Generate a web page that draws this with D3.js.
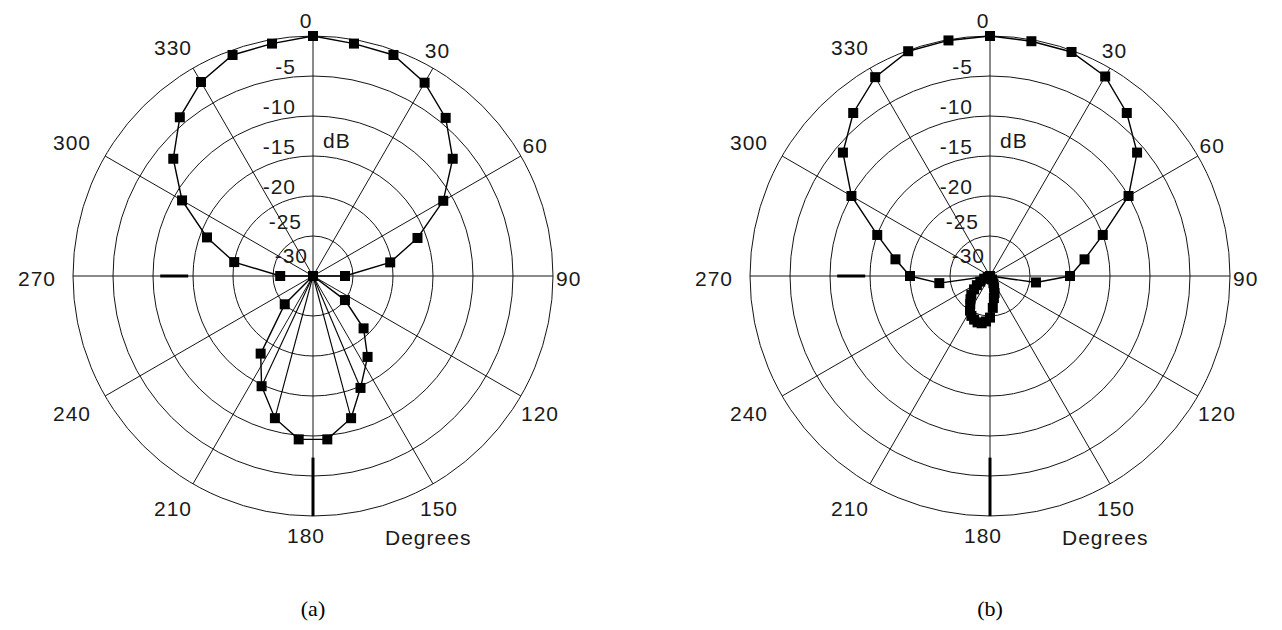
<!DOCTYPE html>
<meta charset="utf-8">
<style>
body { margin: 0; background: #fff; }
text { font: 21px "Liberation Sans", Arial, sans-serif; fill: #1a1a1a; letter-spacing: 1px; }
text.cap { font: 22px "Liberation Serif", "Times New Roman", serif; fill: #000; letter-spacing: 0; }
.ring, .spoke { fill: none; stroke: #151515; stroke-width: 1; }
.trace { fill: none; stroke: #000; stroke-width: 1.4; }
.fan { stroke: #000; stroke-width: 1.1; }
.bar { stroke: #000; stroke-width: 3; }
.mark { fill: #000; }
</style>
<svg width="1282" height="630"></svg>
<script src="https://d3js.org/d3.v7.min.js"></script>
<script>

// axes
var angleTicks = d3.range(0, 360, 30);
var dbTicks = [-5, -10, -15, -20, -25, -30];
var ringLevels = [0, -5, -10, -15, -20, -25];

// panel (a): angle (deg) and level (dB)
var angA = [0, 10, 20, 30, 40, 50, 60, 70, 80, 90, 100, 110, 120,
            127, 136, 146, 157, 165, 175, 185, 195, 205, 214, 225,
            240, 250, 260, 270, 280, 290, 300, 310, 320, 330, 340, 350];
var dbA  = [0, -0.5, -0.6, -2.1, -4.2, -7.2, -11.2, -16.1, -20.2, -26, -30, -30, -30,
            -25, -20.9, -17.8, -14.8, -11.6, -9.5, -9.5, -11.6, -14.8, -18.3, -25,
            -30, -30, -30, -25.9, -20, -15.9, -11.1, -7.2, -4.1, -2.0, -0.6, -0.5];
// points of (a) that are also joined to the centre
var fanA = [157, 165, 195, 205];

// panel (b)
var angB = [0, 10, 20, 30, 40, 50, 60, 70, 80, 90, 98,
            100, 115, 130, 145, 150, 155, 160, 165, 170, 175, 180, 185, 190, 195,
            200, 205, 210, 215, 220, 225, 230, 235, 240, 245, 250, 255,
            262, 270, 280, 290, 300, 310, 320, 330, 340, 350];
var dbB  = [0, -0.2, -0.2, -1.2, -3.4, -6, -10, -15, -18, -20, -24.2,
            -30, -30, -30, -30, -29.5, -29, -28.5, -27.8, -27.2, -26, -24.8, -24.3, -24, -24,
            -24.2, -24.5, -25, -25.7, -26.2, -26.7, -27.4, -28, -28.6, -29.2, -29.7, -30,
            -23.6, -20, -18, -15, -10, -6, -3.4, -1.3, -0.1, -0.1];
var fanB = [];

// heavy radial strokes seen on both plots
var barAng  = [180, 270];
var barFrom = [-7.3, -14.4];
var barTo   = [0, -10.9];

var captions = ["(a)", "(b)"];

var svg = d3.select("svg"),
    cy = 276,
    R = 240;

var r = d3.scaleLinear().domain([-30, 0]).range([0, R]).clamp(true);
var rad = d3.scaleLinear().domain([0, 360]).range([0, 2 * Math.PI]);

function panel(cx, ang, db, fan, caption) {
  var g = svg.append("g").attr("transform", "translate(" + cx + "," + cy + ")");
  var pts = ang.map(function(a, i) { return {a: a, v: db[i]}; });

  g.selectAll(".ring")
    .data(ringLevels)
    .enter().append("circle")
      .attr("class", "ring")
      .attr("r", function(d) { return r(d); });

  g.selectAll(".spoke")
    .data(angleTicks)
    .enter().append("line")
      .attr("class", "spoke")
      .attr("x2", function(d) { return d3.pointRadial(rad(d), R)[0]; })
      .attr("y2", function(d) { return d3.pointRadial(rad(d), R)[1]; });

  g.selectAll(".bar")
    .data(barAng)
    .enter().append("line")
      .attr("class", "bar")
      .attr("x1", function(d, i) { return d3.pointRadial(rad(d), r(barFrom[i]))[0]; })
      .attr("y1", function(d, i) { return d3.pointRadial(rad(d), r(barFrom[i]))[1]; })
      .attr("x2", function(d, i) { return d3.pointRadial(rad(d), r(barTo[i]))[0]; })
      .attr("y2", function(d, i) { return d3.pointRadial(rad(d), r(barTo[i]))[1]; });

  var line = d3.lineRadial()
      .angle(function(d) { return rad(d.a); })
      .radius(function(d) { return r(d.v); })
      .curve(d3.curveLinearClosed);

  g.append("path")
      .attr("class", "trace")
      .attr("d", line(pts));

  g.selectAll(".fan")
    .data(pts.filter(function(d) { return fan.indexOf(d.a) >= 0; }))
    .enter().append("line")
      .attr("class", "fan")
      .attr("x2", function(d) { return d3.pointRadial(rad(d.a), r(d.v))[0]; })
      .attr("y2", function(d) { return d3.pointRadial(rad(d.a), r(d.v))[1]; });

  var ms = 10;
  g.selectAll(".mark")
    .data(pts)
    .enter().append("rect")
      .attr("class", "mark")
      .attr("width", ms)
      .attr("height", ms)
      .attr("x", function(d) { return d3.pointRadial(rad(d.a), r(d.v))[0] - ms / 2; })
      .attr("y", function(d) { return d3.pointRadial(rad(d.a), r(d.v))[1] - ms / 2; });

  // dB labels, stacked up the 0 deg axis
  g.selectAll(".dbl")
    .data(dbTicks)
    .enter().append("text")
      .attr("text-anchor", "end")
      .attr("x", function(d) { return -17 + Math.max(0, (80 - r(d)) / 80 * 12); })
      .attr("y", function(d) { return -r(d) - 2 - Math.max(0, (80 - r(d)) / 80 * 11); })
      .text(function(d) { return d; });

  g.append("text")
      .attr("x", 10)
      .attr("y", -r(-15) - 8)
      .text("dB");

  // angle labels just outside the outer ring
  g.selectAll(".al")
    .data(angleTicks)
    .enter().append("text")
      .attr("text-anchor", "middle")
      .text(function(d) { return d; })
      .each(function(d) {
        var w = this.getComputedTextLength(), h = 15,
            s = Math.sin(rad(d)), c = Math.cos(rad(d)),
            e = 250 + Math.abs(s) * w / 2 + Math.abs(c) * h / 2;
        d3.select(this)
            .attr("x", -7 + e * s)
            .attr("y", 2 - e * c + h / 2);
      });

  g.append("text")
      .attr("x", 72)
      .attr("y", 269)
      .text("Degrees");

  g.append("text")
      .attr("class", "cap")
      .attr("text-anchor", "middle")
      .attr("y", 340)
      .text(caption);
}

panel(313, angA, dbA, fanA, captions[0]);
panel(990, angB, dbB, fanB, captions[1]);

</script>
